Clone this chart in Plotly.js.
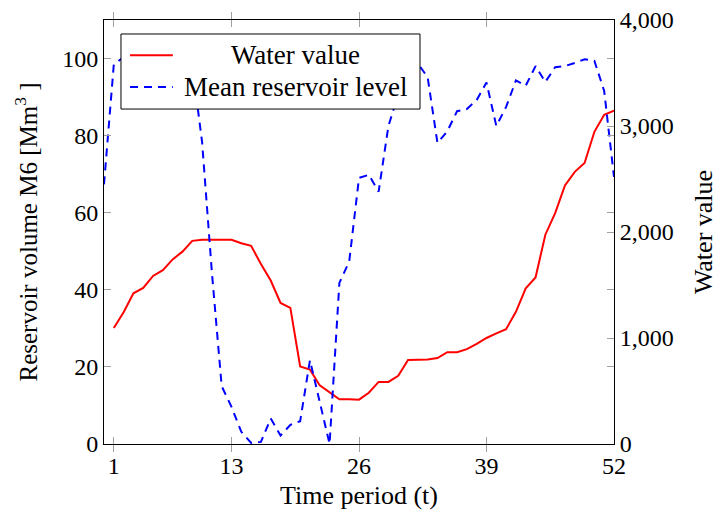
<!DOCTYPE html>
<html>
<head>
<meta charset="utf-8">
<script src="https://cdn.plot.ly/plotly-3.0.1.min.js"></script>
<style>
  html, body { margin: 0; padding: 0; background: #ffffff; }
  #chart { width: 723px; height: 518px; }
</style>
</head>
<body>
<div id="chart"></div>
<script>
// Weekly time periods
const periods = [1, 2, 3, 4, 5, 6, 7, 8, 9, 10, 11, 12, 13, 14, 15, 16, 17, 18, 19, 20,
  21, 22, 23, 24, 25, 26, 27, 28, 29, 30, 31, 32, 33, 34, 35, 36, 37, 38, 39, 40,
  41, 42, 43, 44, 45, 46, 47, 48, 49, 50, 51, 52];

// Water value series (left axis)
const waterValue = [30.1, 34.2, 39.1, 40.5, 43.6, 45.1, 47.9, 49.9, 52.7, 53.0,
  53.0, 53.0, 53.0, 52.1, 51.4, 46.7, 42.4, 36.6, 35.3, 20.1,
  19.3, 15.2, 13.5, 11.6, 11.6, 11.5, 13.3, 16.1, 16.1, 17.7,
  21.8, 21.8, 21.9, 22.3, 23.8, 23.8, 24.6, 26.0, 27.5, 28.7,
  29.8, 34.3, 40.4, 43.2, 54.3, 59.9, 67.1, 70.6, 72.9, 81.0,
  85.4, 86.5];

// Mean reservoir level series (right axis), starting from period 0
const levelPeriods = [0, 1, 2, 3, 4, 5, 6, 7, 8, 9, 10, 11, 12, 13, 14, 15, 16, 17, 18, 19, 20,
  21, 22, 23, 24, 25, 26, 27, 28, 29, 30, 31, 32, 33, 34, 35, 36, 37, 38, 39, 40,
  41, 42, 43, 44, 45, 46, 47, 48, 49, 50, 51, 52];
const meanLevel = [2450, 3580, 3650, 3800, 3800, 3750, 3800, 3750, 3700, 3570,
  2850, 1620, 545, 350, 115, 10, 20, 240, 80, 180,
  215, 790, 390, 0, 1520, 1720, 2510, 2540, 2380, 3000,
  3300, 3170, 3590, 3460, 2840, 2950, 3140, 3160, 3245, 3410,
  3000, 3180, 3430, 3380, 3565, 3415, 3555, 3565, 3595, 3630,
  3615, 3330, 2520];

const seriesNames = ['Water value', 'Mean reservoir level'];
const xTicks = [1, 13, 26, 39, 52];
const leftTicks = [0, 20, 40, 60, 80, 100];
const rightTicks = [0, 1000, 2000, 3000, 4000];

const FONT = 'Liberation Serif, Times New Roman, serif';
const RED = '#ff0000';
const BLUE = '#0000ff';

const traces = [
  {
    x: periods, y: waterValue, name: seriesNames[0], type: 'scatter', mode: 'lines',
    line: { color: RED, width: 2 }, yaxis: 'y', showlegend: false, hoverinfo: 'skip'
  },
  {
    x: levelPeriods, y: meanLevel, name: seriesNames[1], type: 'scatter', mode: 'lines',
    line: { color: BLUE, width: 2, dash: '8px,6px' }, yaxis: 'y2', showlegend: false, hoverinfo: 'skip'
  }
];

// Legend box drawn in paper coordinates
const lg = { x0: 0.0333, x1: 0.6196, y0: 0.790, y1: 0.967 };
const rowY = [0.917, 0.842];
const sampleX = [0.051, 0.135];
const textX = 0.376;

const layout = {
  width: 723, height: 518,
  margin: { l: 104, r: 109, t: 20, b: 74, pad: 0 },
  paper_bgcolor: '#ffffff', plot_bgcolor: '#ffffff',
  font: { family: FONT, size: 24, color: '#000000' },
  showlegend: false,
  xaxis: {
    range: [0, 52], tickvals: xTicks, ticktext: xTicks.map(String),
    ticks: 'inside', ticklen: 7, tickcolor: '#a0a0a0', tickwidth: 1,
    showline: true, linecolor: '#000000', linewidth: 1, mirror: 'allticks',
    showgrid: false, zeroline: false,
    tickfont: { family: FONT, size: 24 },
    title: { text: 'Time period (t)', font: { family: FONT, size: 26 }, standoff: 8 }
  },
  yaxis: {
    range: [0, 110], tickvals: leftTicks, ticktext: leftTicks.map(String),
    ticks: 'inside', ticklen: 7, tickcolor: '#a0a0a0', tickwidth: 1,
    showline: true, linecolor: '#000000', linewidth: 1, mirror: 'allticks',
    showgrid: false, zeroline: false,
    tickfont: { family: FONT, size: 24 },
    title: { text: 'Reservoir volume M6 [Mm<sup>3</sup> ]', font: { family: FONT, size: 25 }, standoff: 17 }
  },
  yaxis2: {
    overlaying: 'y', side: 'right',
    range: [0, 4000], tickvals: rightTicks, tickformat: ',',
    ticks: 'inside', ticklen: 7, tickcolor: '#a0a0a0', tickwidth: 1,
    showline: true, linecolor: '#000000', linewidth: 1,
    showgrid: false, zeroline: false,
    tickfont: { family: FONT, size: 24 },
    title: { text: 'Water value', font: { family: FONT, size: 26 }, standoff: 21 }
  },
  shapes: [
    {
      type: 'rect', xref: 'paper', yref: 'paper', layer: 'above',
      x0: lg.x0, x1: lg.x1, y0: lg.y0, y1: lg.y1,
      line: { color: '#000000', width: 1 }, fillcolor: '#ffffff'
    },
    {
      type: 'line', xref: 'paper', yref: 'paper', layer: 'above',
      x0: sampleX[0], x1: sampleX[1], y0: rowY[0], y1: rowY[0],
      line: { color: RED, width: 2 }
    },
    {
      type: 'line', xref: 'paper', yref: 'paper', layer: 'above',
      x0: sampleX[0], x1: sampleX[1], y0: rowY[1], y1: rowY[1],
      line: { color: BLUE, width: 2, dash: '8px,6px' }
    }
  ],
  annotations: seriesNames.map((name, i) => ({
    xref: 'paper', yref: 'paper', x: textX, y: rowY[i],
    xanchor: 'center', yanchor: 'middle', showarrow: false,
    text: name, font: { family: FONT, size: 27, color: '#000000' }
  }))
};

Plotly.newPlot('chart', traces, layout, { staticPlot: true, displayModeBar: false });
</script>
</body>
</html>
